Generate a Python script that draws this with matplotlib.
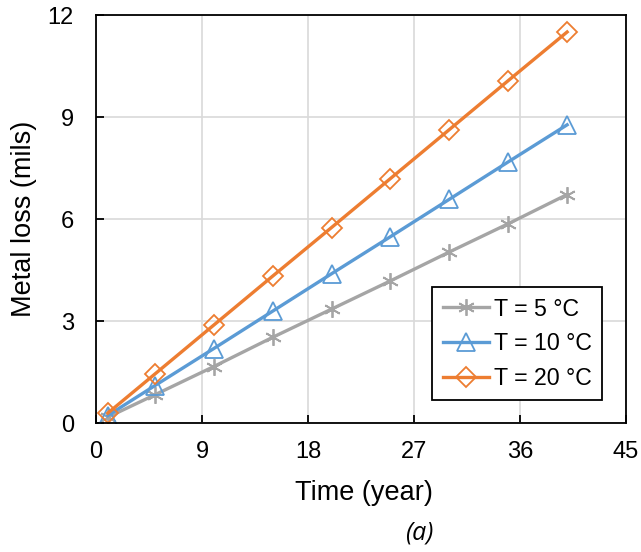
import matplotlib
matplotlib.use("Agg")
import matplotlib.pyplot as plt

plt.rcParams['font.family'] = ['Liberation Sans', 'DejaVu Sans']

time = [1, 5, 10, 15, 20, 25, 30, 35, 40]
loss_5 = [0.17, 0.83, 1.66, 2.52, 3.35, 4.18, 5.03, 5.86, 6.72]
loss_10 = [0.22, 1.1, 2.19, 3.29, 4.39, 5.48, 6.58, 7.68, 8.77]
loss_20 = [0.29, 1.44, 2.88, 4.32, 5.75, 7.19, 8.63, 10.07, 11.5]
labels = ['T = 5 °C', 'T = 10 °C', 'T = 20 °C']
xticks = [0, 9, 18, 27, 36, 45]
yticks = [0, 3, 6, 9, 12]

fig = plt.figure(figsize=(6.41, 5.52), dpi=100)
ax = fig.add_axes([96/641, 1-423/552, 530/641, 408/552])

ax.plot(time, loss_5, color='#A5A5A5', lw=2.4, marker=(6, 2, 0), ms=12, mew=1.3,
        mfc='none', mec='#A5A5A5', label=labels[0])
ax.plot(time, loss_10, color='#5B9BD5', lw=2.4, marker='^', ms=13, mew=1.3,
        mfc='none', mec='#5B9BD5', label=labels[1])
ax.plot(time, loss_20, color='#ED7D31', lw=2.4, marker='D', ms=10, mew=1.3,
        mfc='none', mec='#ED7D31', label=labels[2])

ax.set_xlim(0, 45)
ax.set_ylim(0, 12)
ax.set_xticks(xticks)
ax.set_yticks(yticks)
ax.grid(True, color='#d9d9d9', lw=1.2)
ax.set_axisbelow(True)
for s in ax.spines.values():
    s.set_color('black')
    s.set_linewidth(1.3)
ax.tick_params(direction='in', length=6, width=1.3, labelsize=17, colors='black')
ax.tick_params(axis='x', pad=13)
ax.tick_params(axis='y', pad=16)

ax.set_xlabel('Time (year)', fontsize=19.5, va='top')
ax.xaxis.set_label_coords(0.505, -0.14)
ax.set_ylabel('Metal loss (mils)', fontsize=19.5)
ax.yaxis.set_label_coords(-0.112, 0.5)

leg = ax.legend(loc='lower right', bbox_to_anchor=(0.955, 0.056), borderaxespad=0,
                fontsize=16.7, frameon=True, fancybox=False, edgecolor='black',
                framealpha=1, handlelength=2.0, handletextpad=0.2, borderpad=0.45,
                labelspacing=0.5)
leg.get_frame().set_linewidth(1.3)

fig.text(405/641, 1-533/552, '(a)', fontsize=18, style='italic', ha='left', va='center',
         family=['Open Sans', 'DejaVu Sans'])

fig.savefig('out.png', dpi=100)
